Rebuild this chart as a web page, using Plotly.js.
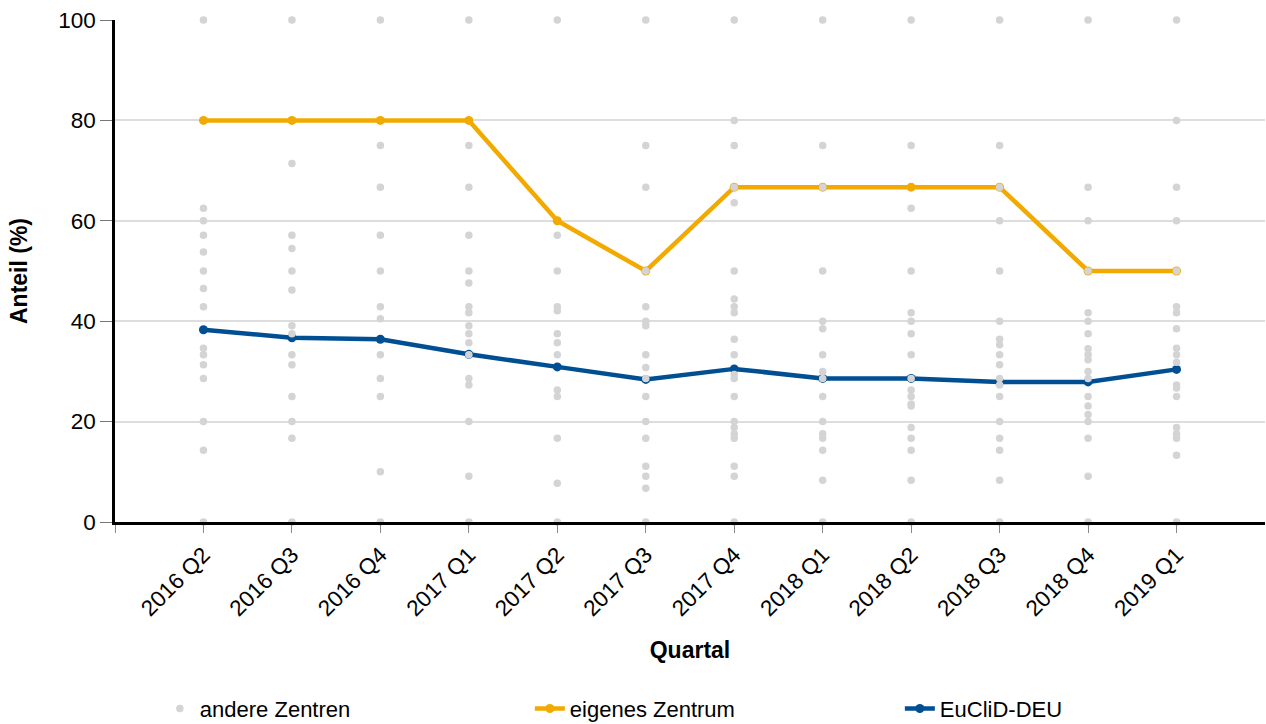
<!DOCTYPE html>
<html>
<head>
<meta charset="utf-8">
<script src="https://cdn.plot.ly/plotly-3.0.1.min.js"></script>
<style>html,body{margin:0;padding:0;background:#fff;}#chart{width:1266px;height:724px;}</style>
</head>
<body>
<div id="chart"></div>
<script>
const quarters = ["2016 Q2","2016 Q3","2016 Q4","2017 Q1","2017 Q2","2017 Q3","2017 Q4","2018 Q1","2018 Q2","2018 Q3","2018 Q4","2019 Q1"];

const ownCentre = [80, 80, 80, 80, 60, 50, 66.7, 66.7, 66.7, 66.7, 50, 50];
const euclidDeu = [38.3, 36.7, 36.4, 33.4, 30.9, 28.4, 30.5, 28.6, 28.6, 27.9, 27.9, 30.4];

const others_2016Q2 = [100, 62.5, 60, 57.1, 53.8, 50, 46.5, 42.9, 34.6, 33.3, 31.3, 28.6, 20, 14.3, 0];
const others_2016Q3 = [100, 71.4, 57.1, 54.5, 50, 46.2, 39.1, 37.5, 33.3, 31.3, 25, 20, 16.7, 0];
const others_2016Q4 = [100, 75, 66.7, 57.1, 50, 42.9, 40.5, 33.3, 28.6, 25, 10, 0];
const others_2017Q1 = [100, 75, 66.7, 57.1, 50, 47.6, 42.9, 41.7, 39.1, 37.5, 35.7, 33.3, 28.6, 27.3, 20, 9.1, 0];
const others_2017Q2 = [100, 57.1, 50, 42.9, 42.1, 37.5, 35.7, 33.3, 26.3, 25, 16.7, 7.7, 0];
const others_2017Q3 = [100, 75, 66.7, 50, 42.9, 40, 39.1, 33.3, 30.8, 28.6, 25, 20, 16.7, 11.1, 9.1, 6.7, 0];
const others_2017Q4 = [100, 80, 75, 66.7, 63.6, 50, 44.4, 42.9, 41.7, 36.4, 33.3, 29.4, 28.6, 25, 20, 18.8, 17.6, 16.7, 11.1, 9.1, 0];
const others_2018Q1 = [100, 75, 66.7, 50, 40, 38.5, 33.3, 30, 28.6, 25, 20, 17.6, 16.7, 14.3, 8.3, 0];
const others_2018Q2 = [100, 75, 62.5, 50, 41.7, 40, 37.5, 33.3, 28.6, 26.3, 25, 23.5, 23.1, 18.8, 16.7, 14.3, 8.3, 0];
const others_2018Q3 = [100, 75, 66.7, 60, 50, 40, 36.4, 35.3, 33.3, 31.3, 28.6, 27.3, 25, 20, 16.7, 14.3, 8.3, 0];
const others_2018Q4 = [100, 66.7, 60, 50, 41.7, 40, 37.5, 34.5, 33.3, 32.3, 30, 28.6, 25, 23.1, 21.4, 20, 16.7, 9.1, 0];
const others_2019Q1 = [100, 80, 66.7, 60, 50, 42.9, 41.7, 38.5, 34.6, 33.3, 31.8, 27.3, 26.7, 25, 18.8, 17.6, 16.7, 13.3, 0];

const othersByQuarter = [others_2016Q2, others_2016Q3, others_2016Q4, others_2017Q1, others_2017Q2, others_2017Q3,
  others_2017Q4, others_2018Q1, others_2018Q2, others_2018Q3, others_2018Q4, others_2019Q1];

const otherX = [], otherY = [];
othersByQuarter.forEach((vals, i) => vals.forEach(v => { otherX.push(i); otherY.push(v); }));
const quarterIdx = quarters.map((q, i) => i);

const FONT = '"Liberation Sans", Arial, sans-serif';
const ORANGE = '#f2aa00';
const BLUE = '#014f93';
const GRAY = '#d4d4d6';

const traces = [
  { type: 'scatter', mode: 'lines+markers', name: 'eigenes Zentrum', x: quarterIdx, y: ownCentre,
    line: { color: ORANGE, width: 4.5 }, marker: { color: ORANGE, size: 9 }, legendrank: 2, cliponaxis: false, hoverinfo: 'skip' },
  { type: 'scatter', mode: 'lines+markers', name: 'EuCliD-DEU', x: quarterIdx, y: euclidDeu,
    line: { color: BLUE, width: 4.5 }, marker: { color: BLUE, size: 9 }, legendrank: 3, cliponaxis: false, hoverinfo: 'skip' },
  { type: 'scatter', mode: 'markers', name: 'andere Zentren', x: otherX, y: otherY,
    marker: { color: GRAY, size: 7.5, symbol: 'circle' }, legendrank: 1, cliponaxis: false, hoverinfo: 'skip' }
];

const layout = {
  width: 1266, height: 724,
  margin: { l: 115, r: 1, t: 20, b: 202, autoexpand: false },
  paper_bgcolor: '#fff', plot_bgcolor: '#fff',
  font: { family: FONT, size: 22, color: '#000' },
  showlegend: true,
  legend: { orientation: 'h', x: 0.039, xanchor: 'left', y: -0.33, yanchor: 'top',
    entrywidth: 325, entrywidthmode: 'pixels', itemwidth: 30, font: { family: FONT, size: 22, color: '#000' } },
  xaxis: {
    range: [-1, 12], tickmode: 'array', tickvals: [-1].concat(quarterIdx), ticktext: [''].concat(quarters),
    tickangle: -45, ticks: 'outside', ticklen: 8, tickcolor: '#888', tickwidth: 1,
    showgrid: false, zeroline: false, showline: true, linecolor: '#000', linewidth: 2.5,
    tickfont: { family: FONT, size: 22.5, color: '#000' },
    title: { text: '<b>Quartal</b>', font: { family: FONT, size: 23, color: '#000' }, standoff: 22 }
  },
  yaxis: {
    range: [0, 100], tickvals: [0, 20, 40, 60, 80, 100], ticks: 'outside', ticklen: 12, tickcolor: '#777', tickwidth: 1,
    showgrid: true, gridcolor: '#dddddd', gridwidth: 2, zeroline: false, showline: true, linecolor: '#000', linewidth: 2.5,
    tickfont: { family: FONT, size: 22.5, color: '#000' },
    title: { text: '<b>Anteil (%)</b>', font: { family: FONT, size: 23, color: '#000' }, standoff: 25 }
  }
};

Plotly.newPlot('chart', traces, layout, { displayModeBar: false, responsive: false });
</script>
</body>
</html>
